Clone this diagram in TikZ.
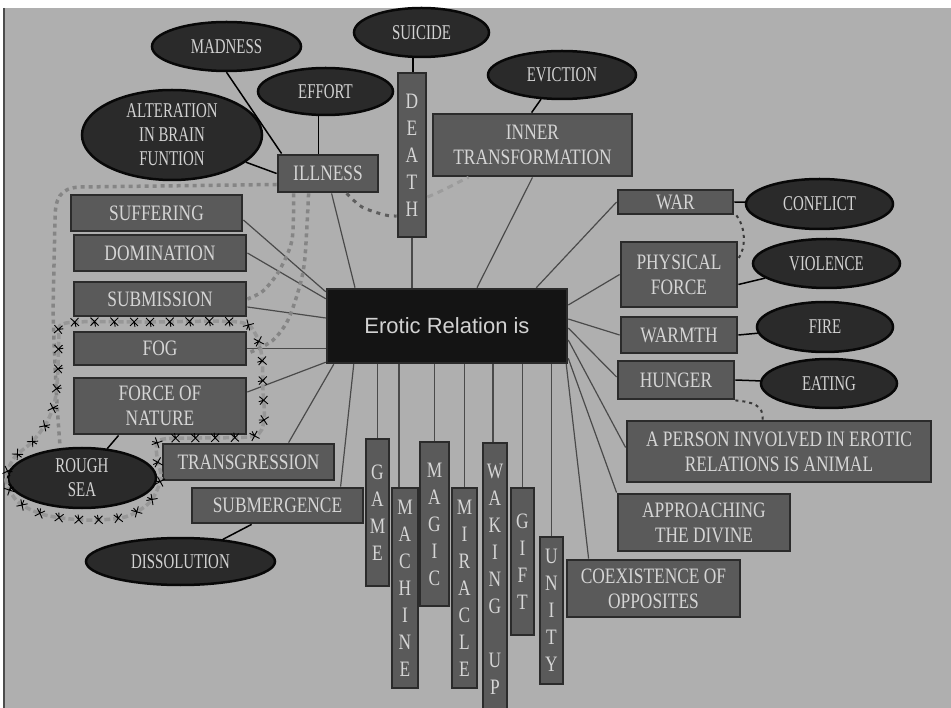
\documentclass[tikz,border=0pt]{standalone}
\usepackage{fontspec}
\setmainfont{Liberation Serif}
\newfontfamily\bxf[FakeStretch=0.79]{Liberation Serif}
\newfontfamily\elf[FakeStretch=0.71]{Liberation Serif}
\newfontfamily\ctf{Liberation Sans}
\usetikzlibrary{shapes.geometric,calc,decorations.markings}
\definecolor{bgc}{HTML}{AFAFAF}
\definecolor{boxfill}{HTML}{5A5A5A}
\definecolor{boxline}{HTML}{2B2B2B}
\definecolor{boxtext}{HTML}{D5D5D5}
\definecolor{elfill}{HTML}{2A2A2A}
\definecolor{elline}{HTML}{080808}
\definecolor{eltext}{HTML}{D2D2D2}
\definecolor{ctrfill}{HTML}{141414}
\definecolor{linkc}{HTML}{4A4A4A}
\definecolor{dashA}{HTML}{858585}
\definecolor{dashB}{HTML}{5E5E5E}
\definecolor{dashC}{HTML}{9C9C9C}
\definecolor{dashD}{HTML}{3A3A3A}
\definecolor{ropec}{HTML}{979797}
\tikzset{
 cbox/.style={draw=boxline, fill=boxfill, line width=2.8pt, text=boxtext, inner sep=0pt, align=center, font=\bxf\fontsize{22}{25}\selectfont},
 vbox/.style={cbox, font=\bxf\fontsize{22}{27}\selectfont},
 oval/.style={ellipse, draw=elline, fill=elfill, line width=2.5pt, text=eltext, inner sep=0pt, align=center, font=\elf\fontsize{21}{24}\selectfont},
 hub/.style={draw=boxline, fill=ctrfill, line width=2.5pt, text=eltext, inner sep=0pt, font=\ctf\fontsize{22}{26}\selectfont},
 spoke/.style={draw=linkc, line width=1.2pt},
 tie/.style={draw=black, line width=1.5pt},
 dgA/.style={draw=dashA, line width=3.5pt, dash pattern=on 4pt off 4pt},
 dgB/.style={draw=dashB, line width=3pt, dash pattern=on 4pt off 5pt},
 dgC/.style={draw=dashC, line width=3pt, dash pattern=on 6pt off 5pt},
 dgD/.style={draw=dashD, line width=2pt, dash pattern=on 3pt off 4pt},
 rope/.style={draw=ropec, line width=3.5pt, dash pattern=on 6pt off 3pt,
   postaction={decorate, decoration={markings,
     mark=between positions 0 and 0.985 step 0.0245 with {\draw[solid, black, line width=0.9pt] (-4pt,-4pt)--(4pt,4pt) (-4pt,4pt)--(4pt,-4pt) (0pt,0pt)--(1pt,-5pt);}}}},
}
\begin{document}
\begin{tikzpicture}[x=1pt,y=-1pt]
\useasboundingbox (0,0) rectangle (951,708);
\clip (0,0) rectangle (951,708);
\fill[white] (0,0) rectangle (951,708);
\fill[bgc] (4,8) rectangle (951,708);
\draw[gray!60!black, line width=1.2pt] (4,8) -- (4,708);

% centre
\node[hub, minimum width=240pt, minimum height=74pt] (ctr) at (447,326) {Erotic Relation is};

% left boxes
\node[cbox, minimum width=171pt, minimum height=36pt] (suffering) at (156.5,213) {SUFFERING};
\node[cbox, minimum width=172pt, minimum height=36pt] (domination) at (160,253) {DOMINATION};
\node[cbox, minimum width=172pt, minimum height=34pt] (submission) at (160,299) {SUBMISSION};
\node[cbox, minimum width=172pt, minimum height=33pt] (fog) at (160,348.5) {FOG};
\node[cbox, minimum width=172pt, minimum height=56pt] (force) at (160,406) {FORCE OF\\NATURE};
\node[cbox, minimum width=171pt, minimum height=36pt] (transgression) at (248.5,462) {TRANSGRESSION};
\node[cbox, minimum width=171pt, minimum height=35pt] (submergence) at (277.5,505.5) {SUBMERGENCE};

% top
\node[cbox, minimum width=100pt, minimum height=37pt] (illness) at (328,173.5) {ILLNESS};
\node[vbox, minimum width=28pt, minimum height=164pt] (death) at (412,155) {D\\E\\A\\T\\H};
\node[cbox, minimum width=199pt, minimum height=62pt] (inner) at (532.5,145) {INNER\\TRANSFORMATION};

% bottom vertical boxes
\node[vbox, minimum width=23pt, minimum height=147pt] (game) at (377.5,512.5) {G\\A\\M\\E};
\node[vbox, minimum width=26pt, minimum height=200pt] (machine) at (405,588) {M\\A\\C\\H\\I\\N\\E};
\node[vbox, minimum width=29pt, minimum height=164pt] (magic) at (434.5,524) {M\\A\\G\\I\\C};
\node[vbox, minimum width=25pt, minimum height=200pt] (miracle) at (464.5,588) {M\\I\\R\\A\\C\\L\\E};
\node[vbox, minimum width=24pt, minimum height=272pt] (waking) at (495,579) {W\\A\\K\\I\\N\\G\\\mbox{}\\U\\P};
\node[vbox, minimum width=23pt, minimum height=147pt] (gift) at (522.5,561.5) {G\\I\\F\\T};
\node[vbox, minimum width=23pt, minimum height=147pt] (unity) at (551.5,610.5) {U\\N\\I\\T\\Y};

% right boxes
\node[cbox, minimum width=115pt, minimum height=24pt] (war) at (675.5,202) {WAR};
\node[cbox, minimum width=116pt, minimum height=65pt] (physical) at (679,274.5) {PHYSICAL\\FORCE};
\node[cbox, minimum width=116pt, minimum height=36pt] (warmth) at (679,335) {WARMTH};
\node[cbox, minimum width=116pt, minimum height=38pt] (hunger) at (676,380) {HUNGER};
\node[cbox, minimum width=304pt, minimum height=61pt] (aperson) at (779,451.5) {A PERSON INVOLVED IN EROTIC\\RELATIONS IS ANIMAL};
\node[cbox, minimum width=172pt, minimum height=57pt] (approach) at (704,522.5) {APPROACHING\\THE DIVINE};
\node[cbox, minimum width=173pt, minimum height=57pt] (coexist) at (653.5,588.5) {COEXISTENCE OF\\OPPOSITES};

% ellipses
\node[oval, minimum width=149pt, minimum height=49pt] (madness) at (226.5,46.5) {MADNESS};
\node[oval, minimum width=180pt, minimum height=90pt] (alteration) at (172,135) {ALTERATION\\IN BRAIN\\FUNTION};
\node[oval, minimum width=135pt, minimum height=47pt] (effort) at (325.5,91.5) {EFFORT};
\node[oval, minimum width=135pt, minimum height=49pt] (suicide) at (421.5,32.5) {SUICIDE};
\node[oval, minimum width=148pt, minimum height=48pt] (eviction) at (562,75) {EVICTION};
\node[oval, minimum width=147pt, minimum height=50pt] (conflict) at (819.5,204) {CONFLICT};
\node[oval, minimum width=147pt, minimum height=49pt] (violence) at (826.5,263.5) {VIOLENCE};
\node[oval, minimum width=136pt, minimum height=50pt] (fire) at (825,327) {FIRE};
\node[oval, minimum width=136pt, minimum height=49pt] (eating) at (829,383.5) {EATING};
\node[oval, minimum width=148pt, minimum height=60pt] (roughsea) at (82,478) {ROUGH\\SEA};
\node[oval, minimum width=189pt, minimum height=47pt] (dissolution) at (180.5,561.5) {DISSOLUTION};

% spokes from the centre
\draw[spoke] ([yshift=-7pt]suffering.east) -- ([yshift=-4pt]ctr.north west);
\draw[spoke] (domination.east) -- ([yshift=-11pt]ctr.north west);
\draw[spoke] ([yshift=-8pt]submission.east) -- ([yshift=8pt]ctr.west);
\draw[spoke] (fog.east) -- (ctr.west |- fog.east);
\draw[spoke] ([yshift=14pt]force.east) -- ([yshift=2pt]ctr.south west);
\draw[spoke] ([xshift=127pt]transgression.north west) -- ([xshift=8pt]ctr.south west);
\draw[spoke] ([xshift=150pt]submergence.north west) -- ([xshift=28pt]ctr.south west);
\draw[spoke] (game.north) -- (game.north |- ctr.south);
\draw[spoke] ([xshift=-6pt]machine.north) -- ([xshift=-6pt]machine.north |- ctr.south);
\draw[spoke] (magic.north) -- (magic.north |- ctr.south);
\draw[spoke] (miracle.north) -- (miracle.north |- ctr.south);
\draw[spoke] ([xshift=-2pt]waking.north) -- ([xshift=-2pt]waking.north |- ctr.south);
\draw[spoke] (gift.north) -- (gift.north |- ctr.south);
\draw[spoke] (unity.north) -- (unity.north |- ctr.south);
\draw[spoke] ([xshift=-2pt]ctr.south east) -- ([xshift=23pt]coexist.north west);
\draw[spoke] ([yshift=6pt]ctr.south east) -- (approach.north west);
\draw[spoke] ([yshift=-14pt]ctr.east) -- ([yshift=4pt]aperson.west);
\draw[spoke] ([yshift=-2pt]ctr.east) -- ([yshift=3pt]hunger.west);
\draw[spoke] ([yshift=7pt]ctr.east) -- (warmth.west);
\draw[spoke] ([yshift=21pt]ctr.east) -- (physical.west);
\draw[spoke] ([xshift=-32pt]ctr.north east) -- (war.west);
\draw[spoke] ([xshift=30pt]ctr.north) -- (inner.south);
\draw[spoke] (death.south) -- (death.south |- ctr.north);
\draw[spoke] ([xshift=-92pt]ctr.north) -- ([xshift=55pt]illness.south west);

% ties to ellipses
\draw[tie] ([xshift=42pt]illness.north west) -- ([xshift=42pt]illness.north west |- effort.south);
\draw[tie] (madness.south) -- ([xshift=5pt]illness.north west);
\draw[tie] (alteration) -- (illness.west);
\draw[tie] ([xshift=1pt]death.north) -- ([xshift=1pt]death.north |- suicide.south);
\draw[tie] ([xshift=100pt]inner.north west) -- ([xshift=-21pt,yshift=1pt]eviction.south);
\draw[tie] (war.east) -- (conflict);
\draw[tie] ([yshift=-10pt]physical.east) -- (violence);
\draw[tie] (warmth.east) -- (fire);
\draw[tie] (hunger.east) -- (eating);
\draw[tie] ([xshift=46pt]force.south west) -- (roughsea);
\draw[tie] ([xshift=61pt]submergence.south west) -- (dissolution);

% dashed links
\draw[dgA] ([yshift=-11pt]illness.west) -- (80,187) .. controls (60,188) and (55,198) .. (55,220) -- (53,310) .. controls (55,380) and (58,420) .. ([xshift=-22pt,yshift=1pt]roughsea.north);
\draw[dgA] plot[smooth] coordinates {([xshift=17pt]illness.south west) (292,240) (279,271) (263,291) (submission.east)};
\draw[dgA] plot[smooth] coordinates {([xshift=32pt]illness.south west) (305,257) (300,285) (288,320) (272,341) ([yshift=-5pt]fog.east)};
\draw[dgB] plot[smooth] coordinates {([xshift=70pt]illness.south west) (362,207) (385,215) ([yshift=-61pt]death.west)};
\draw[dgC] ([yshift=-42pt]death.east) .. controls (445,190) and (458,182) .. ([xshift=37pt]inner.south west);
\draw[dgD] ([xshift=2pt]war.south east) .. controls (746,228) and (746,248) .. ([yshift=-18pt]physical.north east);
\draw[dgD] (hunger.south east) .. controls (752,402) and (764,405) .. ([xshift=137pt]aperson.north west);

% rope with crosses round FOG, FORCE OF NATURE and ROUGH SEA
\draw[rope] plot[smooth cycle, tension=0.5] coordinates {(66,323) (150,322) (238,322) (256,335) (262,358) (263,390) (264,420) (254,436) (200,438) (160,440) (157,458) (161,478) (150,502) (125,517) (85,520) (45,515) (18,502) (6,480) (14,458) (32,442) (47,422) (55,400) (58,370) (59,340)};
\end{tikzpicture}
\end{document}
